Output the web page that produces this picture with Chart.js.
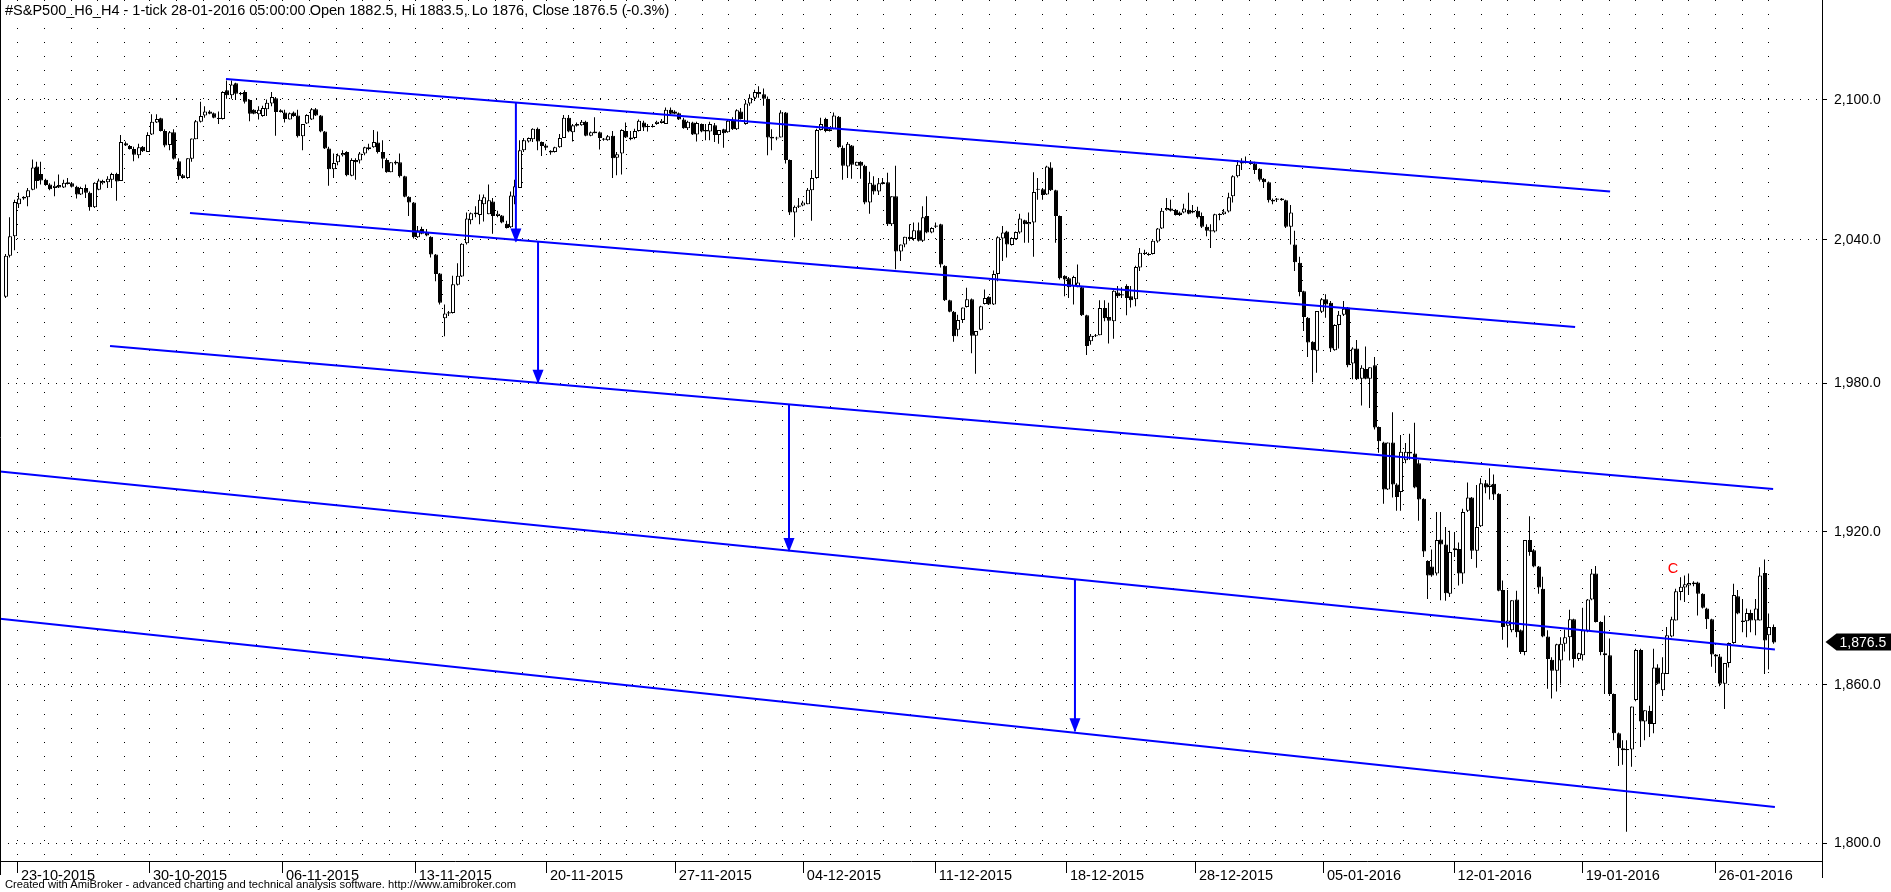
<!DOCTYPE html>
<html>
<head>
<meta charset="utf-8">
<title>S&amp;P500 H4</title>
<script src="https://cdn.jsdelivr.net/npm/chart.js@4.4.1/dist/chart.umd.min.js"></script>
<style>
  html, body { margin: 0; padding: 0; background: #fff; }
  #wrap { position: relative; width: 1891px; height: 892px; overflow: hidden; }
  #chart { position: absolute; left: 0; top: 0; }
  .txt { position: absolute; white-space: nowrap; color: #000; font-family: "Liberation Sans", Arial, sans-serif; }
  #title { left: 5px; top: 2px; font-size: 14.5px; line-height: 17px; }
  #footer { left: 5px; top: 878px; font-size: 11.2px; line-height: 13px; }
</style>
</head>
<body>
<div id="wrap">
  <canvas id="chart" width="1891" height="892"></canvas>
  <div id="title" class="txt">#S&amp;P500_H6_H4 - 1-tick 28-01-2016 05:00:00 Open 1882.5, Hi 1883.5, Lo 1876, Close 1876.5 (-0.3%)</div>
  <div id="footer" class="txt">Created with AmiBroker - advanced charting and technical analysis software. http://www.amibroker.com</div>
</div>
<script>
// week labels and the bar (index) where each one sits
const weekLabels = ['23-10-2015', '30-10-2015', '06-11-2015', '13-11-2015', '20-11-2015', '27-11-2015', '04-12-2015',
    '11-12-2015', '18-12-2015', '28-12-2015', '05-01-2016', '12-01-2016', '19-01-2016', '26-01-2016'];
const weekBars = [2.7, 32.5, 62.5, 92.5, 122.1, 151.2, 180.1, 209.9, 239.5, 268.6, 297.5, 327.0, 355.9, 385.9];

const priceTicks = [1800, 1860, 1920, 1980, 2040, 2100];

// 4 hour bars
const opens = [
    2016, 2033.25, 2041.5, 2055, 2057.5, 2058, 2061.25, 2071.25, 2068, 2065.5,
    2063.5, 2062, 2063.25, 2062.25, 2064.5, 2064, 2062.5, 2059.25, 2062, 2060,
    2053.75, 2061.25, 2064, 2064.5, 2065.5, 2068, 2065, 2081.25, 2080, 2078.75,
    2076, 2079.75, 2077.5, 2085, 2090.25, 2092, 2086.5, 2080.5, 2086, 2073.5,
    2067.5, 2066.25, 2074.5, 2083, 2090.5, 2093.25, 2095, 2094.25, 2092.25, 2091.75,
    2104.25, 2102, 2107.25, 2103, 2103.5, 2100, 2095.75, 2093.75, 2093, 2096,
    2098.5, 2100.75, 2095.5, 2094.5, 2091.5, 2094.5, 2093.25, 2084.25, 2089.75, 2091.5,
    2096, 2093.25, 2086.25, 2079, 2070, 2073, 2076, 2077.5, 2067.25, 2074,
    2073.75, 2076.75, 2079.5, 2079.5, 2081.5, 2077.5, 2074, 2068.75, 2072.5, 2073,
    2067, 2058.25, 2055.75, 2041, 2044.5, 2043, 2041.25, 2033.75, 2025.75, 2007,
    2009, 2009.25, 2021, 2024.5, 2038.5, 2048.25, 2050.75, 2050.5, 2055, 2050.75,
    2056.25, 2050, 2050.25, 2046.75, 2045.25, 2058.25, 2062, 2078.25, 2082, 2083,
    2087.5, 2081.75, 2080.25, 2078, 2077.5, 2079.5, 2083.5, 2092.25, 2086, 2089.5,
    2089, 2090.5, 2084.5, 2085.5, 2086, 2083.25, 2082.5, 2084.5, 2075, 2076.75,
    2086.5, 2083.75, 2083.5, 2086.5, 2090.25, 2088.5, 2088.75, 2089.5, 2090, 2089.5,
    2095.75, 2095, 2094.25, 2091.5, 2087.75, 2090.25, 2085, 2089.5, 2087, 2086.25,
    2089, 2084.75, 2087.25, 2086, 2091.5, 2087.25, 2095, 2089.5, 2098.5, 2101,
    2103.5, 2102.5, 2100.5, 2084, 2083.75, 2083.75, 2094.5, 2074, 2051.5, 2054,
    2054.5, 2055, 2061, 2066.25, 2087, 2091.75, 2087.25, 2087.25, 2092.75, 2079.25,
    2071.25, 2080.25, 2071.5, 2073.25, 2071.5, 2055.75, 2063.5, 2060.5, 2064.5, 2064.5,
    2046.5, 2058.5, 2035, 2038, 2041.25, 2040.25, 2044, 2039.5, 2050, 2043,
    2046, 2046.5, 2029, 2014.5, 2009.75, 2002.25, 2006.25, 2011.75, 2015, 1999.75,
    2002.25, 2013, 2016, 2012.75, 2025.5, 2040.5, 2043.5, 2037.75, 2040.25, 2043,
    2048.25, 2046.5, 2047.25, 2061.5, 2061.5, 2059.25, 2070.75, 2061, 2050, 2024.75,
    2023.75, 2020.5, 2020, 2020, 2008.25, 1997.5, 2000, 2000, 2011.25, 2007.5,
    2005.75, 2017.75, 2016.5, 2020.5, 2016.25, 2015, 2028.25, 2034.5, 2034, 2034,
    2039.25, 2044.75, 2052.5, 2053.25, 2052.75, 2051.5, 2051.5, 2052.75, 2052.25, 2052.25,
    2050, 2045.5, 2044, 2043.5, 2051, 2050.75, 2052, 2058.5, 2067, 2072.5,
    2073.25, 2072.25, 2072.5, 2070.25, 2066, 2064.5, 2056.25, 2057.5, 2057.5, 2056.75,
    2045.5, 2038, 2030.25, 2018.25, 2007.25, 1997.25, 1993.5, 2009.75, 2015, 2013.5,
    1993.75, 2004.25, 2008.5, 2011.5, 1988.25, 1994.5, 1982, 1986, 1982, 1987.5,
    1962.25, 1956, 1937, 1956, 1939, 1936, 1948.75, 1952.25, 1951.5, 1947.5,
    1933.25, 1908.5, 1906.25, 1903.5, 1917, 1915, 1895.5, 1912.75, 1913.25, 1903.5,
    1928.5, 1933.75, 1912.5, 1922.25, 1939.5, 1938, 1939.25, 1935.25, 1897, 1883,
    1881.25, 1893.25, 1881.25, 1872.75, 1916.75, 1912.75, 1906.25, 1897.5, 1878.75, 1869.75,
    1865.5, 1869.5, 1876, 1878.5, 1885.5, 1870, 1871.5, 1881, 1893.25, 1903.5,
    1884.5, 1872.25, 1871.5, 1856.5, 1841.5, 1835.75, 1835, 1835.25, 1854.25, 1873.5,
    1846, 1850, 1845, 1866.75, 1858, 1864.25, 1878.75, 1885, 1896.25, 1898,
    1898.75, 1900, 1900, 1895.5, 1889.75, 1885.5, 1871.75, 1871, 1860.5, 1868.5,
    1876.25, 1894.5, 1885, 1884.75, 1888, 1885, 1885, 1903.75, 1879.25, 1882.5
];
const highs = [
    2034, 2049.5, 2057, 2060, 2058.5, 2062, 2074.25, 2073.25, 2073.25, 2066,
    2064, 2064.75, 2067.75, 2065.5, 2066.25, 2064.5, 2063, 2062.5, 2063.5, 2060.5,
    2064.5, 2066, 2065.5, 2067, 2068.5, 2068.5, 2084.75, 2082, 2080.5, 2079.75,
    2081, 2080, 2086, 2093.75, 2093.75, 2092.25, 2087.25, 2086.5, 2087.25, 2074.75,
    2068, 2074.75, 2083.25, 2091.25, 2099.25, 2097.25, 2095.5, 2094.5, 2095, 2103.75,
    2108.5, 2108.5, 2107.5, 2103.5, 2104.25, 2100.25, 2096, 2097.25, 2097.5, 2100.25,
    2103.5, 2101.25, 2096, 2095.75, 2094.5, 2095, 2095.75, 2089.5, 2093.75, 2096.5,
    2096.5, 2093.5, 2086.5, 2079.75, 2076.75, 2076.75, 2078.25, 2077.75, 2074.75, 2074.75,
    2077.5, 2079.75, 2081, 2087, 2086.25, 2082.5, 2074.75, 2073, 2073.75, 2076.75,
    2067.25, 2058.5, 2056, 2045.75, 2045.5, 2044.5, 2041.5, 2034, 2026, 2012.75,
    2010, 2024.75, 2030, 2038.5, 2051.5, 2051.5, 2054.25, 2059.25, 2059.25, 2063.5,
    2057.75, 2052.25, 2050.5, 2048, 2060.5, 2065.5, 2082.5, 2083.5, 2083.75, 2087.75,
    2088, 2082, 2081, 2078.25, 2079.75, 2085.25, 2093.5, 2093.5, 2089.5, 2090.25,
    2091.25, 2091, 2086.25, 2092.5, 2086.25, 2083.5, 2084.75, 2086.5, 2077.5, 2087.25,
    2090.25, 2086.5, 2087.5, 2091.5, 2091, 2089.5, 2089.5, 2091, 2091.75, 2096.75,
    2096.75, 2095.5, 2094.5, 2092.25, 2091, 2090.5, 2090.5, 2089.75, 2089.5, 2090.5,
    2090, 2087, 2087.5, 2091.25, 2092.5, 2096, 2096.5, 2100, 2102.5, 2104.5,
    2106, 2105, 2101.5, 2087.25, 2084, 2095.5, 2094.75, 2074.25, 2054.5, 2057.75,
    2056.5, 2062, 2069.75, 2087.5, 2092.25, 2092.25, 2088, 2094.5, 2093, 2080.25,
    2081.75, 2080.5, 2073.25, 2073.5, 2072, 2069, 2067, 2066.25, 2066.25, 2068.5,
    2058.5, 2071.5, 2038, 2041.25, 2046.5, 2047.25, 2047.25, 2054.25, 2058.5, 2045.25,
    2047.25, 2046.75, 2029.25, 2014.75, 2010, 2008.5, 2011.5, 2019.75, 2015.25, 2001.75,
    2012.25, 2019, 2016.25, 2027, 2041.5, 2045.75, 2043.75, 2041, 2043.5, 2051,
    2048.5, 2051.5, 2068.75, 2066.25, 2062, 2071.5, 2073, 2061.25, 2050.25, 2025,
    2024.25, 2024.75, 2029.5, 2020.5, 2008.5, 2000.5, 2000.5, 2014.5, 2014.5, 2013.5,
    2018.75, 2020.5, 2020, 2021.25, 2020.5, 2029, 2036.5, 2035.75, 2034.5, 2039.75,
    2045, 2053.5, 2057.75, 2057, 2053, 2052, 2055.25, 2060, 2054.75, 2054,
    2051.5, 2046.5, 2046.5, 2051, 2051.25, 2053, 2060, 2067.5, 2074, 2074.75,
    2075.5, 2074, 2073.25, 2070.5, 2066.25, 2064.75, 2057.5, 2057.75, 2057.75, 2057,
    2054.75, 2043.75, 2032.75, 2018.5, 2007.5, 1997.5, 2010, 2015.5, 2017, 2014.25,
    2004.5, 2010, 2014.25, 2011.75, 1995, 1998, 1987.5, 1995.25, 1986.75, 1991,
    1962.5, 1956.25, 1956, 1968.25, 1939.5, 1959, 1955.75, 1959.5, 1964, 1949,
    1933.5, 1908.75, 1913, 1928, 1928, 1922, 1920.5, 1920, 1915.75, 1929.25,
    1939.75, 1934, 1938.75, 1941.5, 1940.75, 1945.5, 1943, 1935.5, 1900.75, 1897,
    1893, 1896.75, 1881.5, 1916.75, 1926.25, 1913.25, 1906.5, 1902.25, 1881.25, 1870.75,
    1876, 1878.5, 1881.5, 1889.25, 1885.75, 1872.5, 1890, 1893.5, 1905.25, 1906.5,
    1884.75, 1887, 1878, 1856.75, 1841.75, 1838.75, 1838.75, 1851.75, 1874, 1874,
    1850.25, 1852, 1874, 1868, 1870.75, 1882.5, 1886.5, 1897.5, 1902, 1902.75,
    1903.5, 1900.5, 1900.25, 1895.75, 1890, 1885.75, 1872, 1872, 1868.5, 1876.5,
    1899.5, 1897, 1893.5, 1889.75, 1889.25, 1893.5, 1906, 1909, 1887.75, 1883.5
];
const lows = [
    2015.5, 2032.5, 2035.5, 2053.5, 2057, 2054.25, 2061, 2061.75, 2063.5, 2063,
    2061, 2058.5, 2062, 2062, 2063.5, 2062.25, 2057.5, 2059, 2057.75, 2052.25,
    2053.5, 2061, 2063.5, 2062, 2062, 2056.5, 2065, 2080, 2078.5, 2073.5,
    2074.75, 2077.5, 2077.5, 2084.75, 2090, 2086.25, 2079.5, 2078.25, 2074.25, 2065.5,
    2066, 2066, 2073.25, 2083, 2090.25, 2092.25, 2093.75, 2092, 2089.5, 2091.5,
    2100.5, 2100.5, 2100, 2102, 2098.5, 2090.75, 2093.75, 2091.5, 2092.75, 2093,
    2097.25, 2084.5, 2094.5, 2090.25, 2091.5, 2092.75, 2083.75, 2078.25, 2089.5, 2091.25,
    2093, 2086, 2078.75, 2063, 2066.25, 2071.75, 2075.5, 2067, 2067, 2065.5,
    2072.5, 2076, 2078.25, 2079.25, 2076.75, 2070.5, 2068.5, 2068.75, 2072, 2066.5,
    2058, 2050, 2040.5, 2040.75, 2042.25, 2041.5, 2032.5, 2022.5, 2012.75, 1999.5,
    2008, 2009, 2020.75, 2024.25, 2038, 2046.5, 2049.5, 2046.5, 2047.75, 2050.75,
    2042.5, 2049.5, 2047, 2044.75, 2045, 2055, 2062, 2077.5, 2081.5, 2081.75,
    2078.25, 2075.75, 2078.25, 2076.25, 2077.25, 2079.25, 2083.5, 2086, 2082, 2088.5,
    2088.75, 2084.25, 2084.25, 2085.5, 2078.5, 2082.25, 2082.25, 2066.25, 2067.5, 2067.75,
    2083.5, 2082.5, 2083, 2086.25, 2086.5, 2086.25, 2088, 2089.25, 2089.75, 2089.5,
    2093.75, 2093.75, 2091.25, 2087.5, 2087, 2084.75, 2082, 2086, 2082.5, 2082.5,
    2081.75, 2081, 2079.25, 2085.75, 2087, 2087, 2091.5, 2089.25, 2097.5, 2099.5,
    2101, 2097.5, 2076, 2078.25, 2082.5, 2083.75, 2072.5, 2050.5, 2041, 2053.5,
    2054.25, 2055, 2048, 2066, 2086.75, 2086, 2086.25, 2087.25, 2079.25, 2065.5,
    2066.25, 2066, 2071.5, 2066, 2055, 2051, 2059.25, 2059, 2063.5, 2045.75,
    2045.75, 2027.5, 2031, 2036.75, 2039.5, 2039.5, 2039.25, 2039, 2042.75, 2042.75,
    2045, 2028.25, 2014.25, 2009.5, 1997.25, 1999.5, 2005.5, 2011.5, 1992.5, 1984,
    2002, 2012.75, 2012.5, 2012.5, 2022.5, 2031, 2032.5, 2037.5, 2040, 2042.5,
    2038.75, 2038.75, 2032.75, 2057, 2057, 2059, 2060.75, 2038.75, 2023.25, 2016.25,
    2015.5, 2012.75, 2020, 2008, 1991.75, 1996, 1999.25, 2000, 2005.75, 1996.5,
    1998.5, 2015.5, 2015.5, 2008.25, 2011.5, 2012, 2026.75, 2033.5, 2033.25, 2033.75,
    2038.75, 2044.5, 2052.25, 2052, 2050.25, 2050, 2051.25, 2050.75, 2051.25, 2049,
    2045, 2041.5, 2036.5, 2043, 2048.25, 2050.5, 2051.5, 2055.75, 2066.5, 2069.75,
    2072.5, 2072, 2068, 2064.75, 2062, 2055.75, 2055, 2056, 2056.5, 2045,
    2038, 2026.75, 2016.25, 2001.75, 1991, 1980.5, 1984.5, 2009.25, 2007.25, 1993,
    1993.5, 1994.5, 2008, 1986.75, 1981.75, 1981.5, 1971, 1981.75, 1970, 1961.25,
    1951.75, 1931.25, 1936.75, 1933.75, 1928.5, 1928.5, 1947.5, 1949, 1937.5, 1924.5,
    1910, 1893.5, 1902.25, 1902.75, 1893, 1892.75, 1894.25, 1910, 1898.75, 1899.5,
    1928, 1909.25, 1905.75, 1922, 1935.5, 1933, 1932.75, 1896.5, 1877.5, 1874.5,
    1880.5, 1878.5, 1872, 1871.5, 1910.5, 1906, 1895.5, 1878.5, 1858.5, 1854.75,
    1857.5, 1860.5, 1873, 1869.5, 1866.75, 1869.25, 1869.5, 1880.5, 1893, 1884.25,
    1871.5, 1856.5, 1855.75, 1838.75, 1829, 1829.5, 1804.25, 1828.75, 1853.75, 1836.25,
    1838.75, 1840, 1841.5, 1860.25, 1855.75, 1864.25, 1878.5, 1885, 1893, 1892.25,
    1895, 1898.5, 1887, 1889.75, 1881.75, 1867, 1864.75, 1859.5, 1850.75, 1866.75,
    1876, 1887.5, 1880.5, 1878.5, 1880.5, 1879.25, 1885, 1864.25, 1866, 1876
];
const closes = [
    2033.25, 2041.5, 2056, 2057.5, 2058.25, 2061, 2070.75, 2065, 2065.25, 2063.25,
    2061.5, 2063, 2062.25, 2064.25, 2063.75, 2062.5, 2059.25, 2062, 2060, 2053.75,
    2064.25, 2065.25, 2065, 2066, 2068, 2064.75, 2081.75, 2080.25, 2078.75, 2076.25,
    2079.5, 2077.75, 2084.75, 2090.5, 2091.75, 2086.5, 2080.25, 2086, 2074.5, 2067,
    2066.25, 2074.75, 2083.25, 2090.75, 2093, 2095, 2094, 2092.25, 2091.75, 2103.5,
    2102, 2106.75, 2102.75, 2102.5, 2099.25, 2094, 2094, 2095.75, 2096.5, 2098.75,
    2101.25, 2094.75, 2094.75, 2091.75, 2094.25, 2093, 2084.25, 2089.5, 2093.5, 2096,
    2093.25, 2086.25, 2079, 2070, 2072.75, 2076, 2077, 2067.5, 2074, 2073,
    2076.75, 2079.5, 2078.75, 2081.75, 2077.5, 2074.5, 2068.75, 2073, 2073.25, 2067,
    2058.25, 2055.75, 2041, 2044, 2042.5, 2041.75, 2033.75, 2025.5, 2013.5, 2009,
    2009.5, 2021.25, 2024.75, 2038.25, 2049, 2051.25, 2051.5, 2057, 2058, 2056.75,
    2050, 2051, 2047.25, 2045, 2058.75, 2062.75, 2078.25, 2082.5, 2083.5, 2087.5,
    2082, 2080, 2079.25, 2077.25, 2079.5, 2083.5, 2092.25, 2086.25, 2089, 2088.75,
    2090.5, 2084.5, 2086, 2086.25, 2083.5, 2082.75, 2084.25, 2074.75, 2076.5, 2087,
    2083.75, 2083, 2086.5, 2091, 2088, 2088.25, 2088.25, 2090.5, 2091, 2095.75,
    2094, 2094, 2091.5, 2087.75, 2090.5, 2085, 2090, 2086.25, 2086.25, 2089.5,
    2084.75, 2087, 2085.5, 2091, 2087.25, 2095.5, 2091.75, 2098.5, 2101, 2103.5,
    2102.5, 2100.5, 2083.75, 2083.25, 2083.25, 2094.5, 2074, 2051.5, 2054, 2054.5,
    2055.75, 2061.25, 2066.25, 2087, 2089.5, 2086.5, 2086.5, 2093.25, 2079.5, 2071.5,
    2081, 2072, 2073.25, 2071.5, 2055.75, 2064.25, 2060.5, 2064, 2063.75, 2046.5,
    2058.5, 2035, 2038, 2041.25, 2040.25, 2044, 2039.5, 2049.5, 2043, 2045,
    2045.5, 2029.5, 2014.5, 2009.75, 1999.5, 2006.25, 2011.5, 2015, 1999.75, 2001.75,
    2012, 2015.5, 2012.75, 2025.5, 2041, 2043, 2038, 2040.75, 2043.25, 2049,
    2046.5, 2047.5, 2060.25, 2061.25, 2059, 2071.25, 2061, 2050, 2023.75, 2023.25,
    2020, 2024.25, 2022, 2008.25, 1995.5, 1999.75, 1999.5, 2011.25, 2007, 2006,
    2018.5, 2016.25, 2017, 2015.5, 2014.5, 2028.5, 2034.5, 2034, 2033.5, 2039.5,
    2044.75, 2052.25, 2053.5, 2052.25, 2050.5, 2050.5, 2053.25, 2051, 2051.5, 2049.5,
    2045.5, 2043.75, 2043.5, 2050.75, 2050.5, 2052, 2058, 2067, 2072, 2073.25,
    2072.75, 2073.25, 2069.75, 2065.5, 2064.5, 2056.75, 2057, 2057, 2056.75, 2045.5,
    2051.5, 2030.5, 2018, 2007.5, 1997, 1993.75, 2010, 2015, 2012.75, 1994.5,
    2004.25, 2008.5, 2011, 1987.5, 1994.5, 1981.75, 1986.5, 1982, 1986.75, 1962,
    1956.5, 1937, 1956, 1939, 1934, 1952.25, 1952.25, 1951.5, 1937.75, 1933,
    1912.25, 1902.75, 1902.75, 1916.75, 1915, 1895.75, 1912, 1913.5, 1903.5, 1928,
    1933.75, 1912.5, 1922, 1939.5, 1937.75, 1939, 1935, 1896.75, 1882.5, 1885,
    1893, 1880.5, 1872.75, 1916.75, 1912, 1906.25, 1898, 1878.75, 1870, 1865.5,
    1875.75, 1876, 1878.5, 1885.5, 1870, 1872.25, 1881.25, 1893.25, 1903.5, 1884.5,
    1872.75, 1871.5, 1856.5, 1841.5, 1835.75, 1835, 1835.5, 1851.75, 1873.5, 1846,
    1850.25, 1845, 1866.75, 1860.5, 1864.75, 1879.25, 1885.5, 1896.5, 1898.25, 1899.25,
    1899.75, 1899.25, 1895.5, 1890, 1885.5, 1871.75, 1871, 1860.5, 1868.5, 1876.25,
    1895, 1887.75, 1884.5, 1888, 1885, 1889.75, 1902.75, 1877.25, 1882.5, 1876.5
];

// drawn trend lines: [bar, price] -> [bar, price]
const trendLines = [
    [[49.66, 2109.2], [362.1, 2060.5]],
    [[41.53, 2051.3], [354.2, 2003.4]],
    [[23.48, 1995.5], [398.9, 1937.2]],
    [[-1.35, 1944.2], [399.3, 1873.7]],
    [[-1.35, 1885.7], [399.3, 1813.5]]
];
// vertical arrows between the lines
const arrows = [
    [[115.1, 2098.7], [115.1, 2039.2]],
    [[120.1, 2039.0], [120.1, 1980.3]],
    [[176.75, 1971.6], [176.75, 1912.4]],
    [[241.3, 1901.3], [241.3, 1842.2]]
];
const waveMark = { text: 'C', bar: 376.3, price: 1905.3 };
const lastClose = closes[closes.length - 1];

const FONT = '"Liberation Sans", Arial, sans-serif';
const BLUE = '#0000ff';
const fmtPrice = v => v.toLocaleString('en-US', { minimumFractionDigits: 1, maximumFractionDigits: 1 });

// daily grid: one line every 6 bars inside each week
const dayTicks = [];
weekBars.forEach((w, k) => {
    const next = k + 1 < weekBars.length ? weekBars[k + 1] : opens.length;
    for (let d = 0; d < 5; d++) {
        const v = w + d * 6;
        if (v < next - 2) dayTicks.push({ value: v, label: d === 0 ? weekLabels[k] : '' });
    }
});

const bodies = opens.map((o, i) => ({ x: i, y: [Math.min(o, closes[i]), Math.max(o, closes[i])] }));
const wicks = opens.map((o, i) => ({ x: i, y: [Math.min(lows[i], o, closes[i]), Math.max(highs[i], o, closes[i])] }));
const bodyFill = opens.map((o, i) => closes[i] >= o ? '#ffffff' : '#000000');

const lineSets = trendLines.map(pts => ({
    type: 'line',
    data: pts.map(p => ({ x: p[0], y: p[1] })),
    borderColor: BLUE, borderWidth: 2, pointRadius: 0, tension: 0, order: -1
}));
const arrowSets = arrows.map(pts => ({
    type: 'line',
    isArrow: true,
    data: pts.map(p => ({ x: p[0], y: p[1] })),
    borderColor: BLUE, borderWidth: 2, pointRadius: 0, tension: 0, order: -1
}));

// keep candles on whole pixels so they stay crisp like the original
const snapCandles = {
    id: 'snapCandles',
    beforeDatasetsDraw(chart) {
        chart.data.datasets.forEach((ds, i) => {
            if (!ds.candlePart) return;
            chart.getDatasetMeta(i).data.forEach(el => {
                const cx = Math.round(el.x);
                el.x = ds.candlePart === 'wick' ? cx - 0.5 : cx;
            });
        });
    }
};

const extras = {
    id: 'extras',
    afterDatasetsDraw(chart) {
        const { ctx, scales: { x, y } } = chart;
        ctx.save();
        chart.data.datasets.forEach((ds, i) => {
            if (!ds.isArrow) return;
            const pts = chart.getDatasetMeta(i).data;
            const tip = pts[pts.length - 1];
            ctx.fillStyle = BLUE;
            ctx.beginPath();
            ctx.moveTo(tip.x, tip.y + 1);
            ctx.lineTo(tip.x - 5.5, tip.y - 13);
            ctx.lineTo(tip.x + 5.5, tip.y - 13);
            ctx.closePath();
            ctx.fill();
        });
        ctx.fillStyle = '#ff0000';
        ctx.font = '14.5px ' + FONT;
        ctx.textAlign = 'center';
        ctx.textBaseline = 'middle';
        ctx.fillText(waveMark.text, x.getPixelForValue(waveMark.bar), y.getPixelForValue(waveMark.price));
        ctx.restore();
    },
    afterDraw(chart) {
        const { ctx, chartArea, scales: { y } } = chart;
        const r = Math.round(chartArea.right) + 0.5;
        ctx.save();
        ctx.strokeStyle = '#000';
        ctx.lineWidth = 1;
        ctx.beginPath();
        ctx.moveTo(0.5, 0); ctx.lineTo(0.5, 875);
        ctx.moveTo(r, chartArea.bottom); ctx.lineTo(r, 878);
        ctx.stroke();
        // last price tag
        const py = Math.round(y.getPixelForValue(lastClose));
        const tipX = r + 3;
        ctx.fillStyle = '#000';
        ctx.beginPath();
        ctx.moveTo(tipX, py);
        ctx.lineTo(tipX + 11, py - 8.5);
        ctx.lineTo(chart.width, py - 8.5);
        ctx.lineTo(chart.width, py + 8.5);
        ctx.lineTo(tipX + 11, py + 8.5);
        ctx.closePath();
        ctx.fill();
        ctx.fillStyle = '#fff';
        ctx.font = '14px ' + FONT;
        ctx.textAlign = 'left';
        ctx.textBaseline = 'middle';
        ctx.fillText(fmtPrice(lastClose), tipX + 14, py + 1);
        ctx.restore();
    }
};

// pixel rows 0..861 of the plot cover this price range (log scale)
const yTop = 2144.0;
const yBottom = 1793.3;

new Chart(document.getElementById('chart'), {
    type: 'bar',
    data: {
        datasets: [
            ...lineSets,
            ...arrowSets,
            {
                type: 'bar', candlePart: 'body', data: bodies, backgroundColor: bodyFill, borderColor: '#000', borderWidth: 1,
                borderSkipped: false, barThickness: 4, grouped: false, inflateAmount: 0, minBarLength: 1, order: 0
            },
            {
                type: 'bar', candlePart: 'wick', data: wicks, backgroundColor: '#000', borderWidth: 0,
                barThickness: 1, grouped: false, inflateAmount: 0, minBarLength: 1, order: 1
            }
        ]
    },
    options: {
        responsive: false,
        devicePixelRatio: 1,
        animation: false,
        events: [],
        layout: { padding: 0, autoPadding: false },
        plugins: { legend: { display: false }, tooltip: { enabled: false } },
        scales: {
            x: {
                type: 'linear',
                position: 'bottom',
                offset: false,
                min: -6 / 4.43,
                max: (1822 - 6) / 4.43,
                afterBuildTicks(s) { s.ticks = dayTicks.map(t => ({ value: t.value })); },
                afterFit(s) { s.height = 31; s.paddingLeft = 0; s.paddingRight = 0; },
                ticks: {
                    autoSkip: false, maxRotation: 0, minRotation: 0, align: 'start', labelOffset: 3, padding: -6,
                    color: '#000', font: { family: FONT, size: 14.5 },
                    callback: (v, i) => dayTicks[i] ? dayTicks[i].label : ''
                },
                grid: {
                    offset: false, color: '#000', lineWidth: 1, tickLength: 12, tickWidth: 1,
                    tickColor: c => (c.tick && c.tick.label) ? '#000' : 'rgba(0,0,0,0)'
                },
                border: { display: true, color: '#000', width: 1, dash: [1, 13] }
            },
            y: {
                type: 'logarithmic',
                position: 'right',
                min: yBottom,
                max: yTop,
                bounds: 'data',
                beginAtZero: false,
                afterBuildTicks(s) { s.ticks = priceTicks.map(v => ({ value: v })); },
                afterFit(s) { s.width = 69; s.paddingTop = 0; s.paddingBottom = 0; },
                ticks: {
                    autoSkip: false, padding: 7, color: '#000', font: { family: FONT, size: 14 },
                    callback: v => fmtPrice(v)
                },
                grid: { color: '#000', lineWidth: 1, tickLength: 5, tickColor: '#000' },
                border: { display: true, color: '#000', width: 1, dash: [1, 7] }
            }
        }
    },
    plugins: [snapCandles, extras]
});
</script>
</body>
</html>
